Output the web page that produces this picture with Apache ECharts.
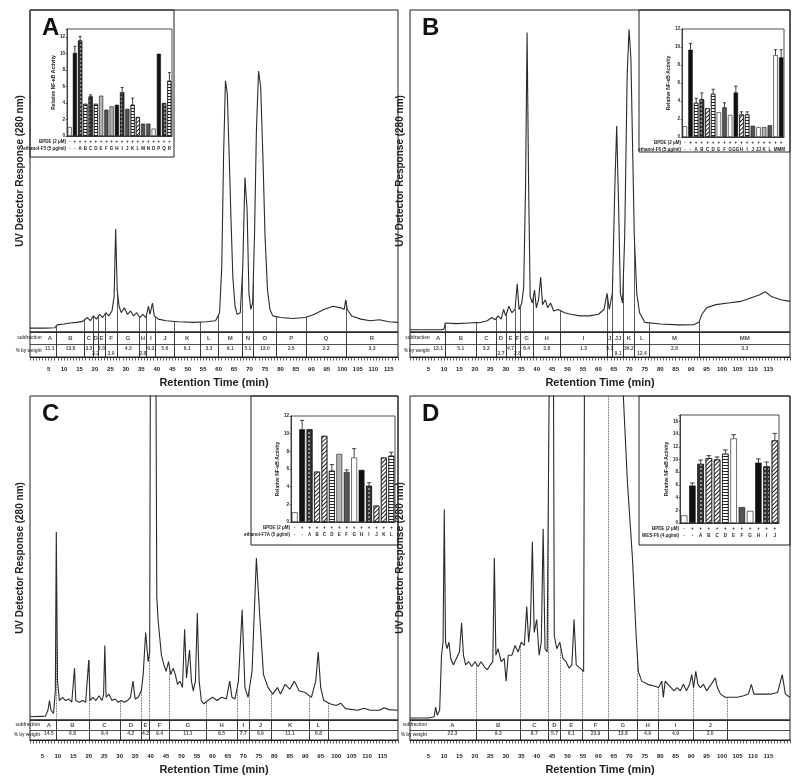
<!DOCTYPE html>
<html>
<head>
<meta charset="utf-8">
<script src="https://cdn.jsdelivr.net/npm/echarts@6/dist/echarts.min.js"></script>
<style>
html, body { margin: 0; padding: 0; background: #fff; }
#chart { width: 800px; height: 784px; }
</style>
</head>
<body>
<div id="chart"></div>
<script>
// ---- retention time tick labels (min)
const tickLabels = [5, 10, 15, 20, 25, 30, 35, 40, 45, 50, 55, 60, 65, 70, 75, 80, 85, 90, 95, 100, 105, 110, 115]

// ---- panel A: chromatogram [time, relative response]
const chromA = [[-1,1.2],[4,1.2],[7,1.3],[7.8,2.2],[10,2.5],[12,2.8],[14,3],[16,3.3],[17.5,4.5],[18.5,3.5],[19.5,5],[20.5,4],[21.5,5.5],[22.5,4.5],[23.5,6],[24.5,5],[25.5,6.5],[26.2,11],[26.7,32],[27.2,13],[27.8,8],[28.5,6],[29.5,7.5],[30.5,5.5],[31.5,6.5],[32.5,5],[33.5,6],[34.5,4.5],[35.5,5.5],[36.5,4.5],[37.3,8],[37.8,5.5],[38.6,9],[39.2,5],[40.5,4],[43,3.5],[47,3.2],[52,3],[56,3.2],[59,3.5],[60.3,6],[61,20],[61.6,55],[62.2,78],[62.8,74],[63.4,55],[64,35],[64.6,17],[65.3,8],[66,5.5],[67,6],[67.8,20],[68.5,48],[69.2,38],[69.8,12],[70.4,7],[71,9],[71.6,30],[72.2,62],[72.9,81],[73.6,76],[74.3,55],[75,30],[75.8,13],[76.6,7],[77.5,5],[80,4.5],[84,4.2],[88,4.5],[91,5.5],[94,7],[97,8],[99.5,7.5],[100.6,7],[101.1,10],[101.6,7],[103,5],[106,4],[109,3.5],[112,3.8],[115,3.2],[118,3]]
const fracA = ['A','B','C','D','E','F','G','H','I','J','K','L','M','N','O','P','Q','R']
const weightA = [11.1,13.8,3.3,3.2,2.0,3.0,4.3,2.8,6.3,5.6,6.1,3.3,9.1,5.1,13.0,2.5,2.3,3.3]
const cutsA = [7.5,16.7,19.4,21.0,23.2,27.2,34.3,36.7,39.4,45.8,53.9,59.8,67.7,71.2,78.7,88.2,101.2]
const lowA = ['D','F','H']
const insCatA = ['-','-','A','B','C','D','E','F','G','H','I','J','K','L','M','N','O','P','Q','R']
const insValA = [1.1,10.1,11.6,3.9,4.8,3.9,4.9,3.2,3.6,3.8,5.3,3.3,3.8,2.3,1.5,1.5,0.9,10.0,4.0,6.7]
const insErrA = [null,10.9,12.1,null,5.0,null,null,null,null,null,5.9,null,4.6,null,null,null,null,null,null,7.7]
const insFillA = ['w','k','x','h','x','h','l','g','l','k','x','g','h','d','g','g','w','k','x','h']

// ---- panel B
const chromB = [[-1,0.7],[9,0.7],[10,0.9],[10.4,2.8],[11,2.4],[14,2.6],[18,2.8],[22,3],[24,3.5],[25.5,4.5],[26.5,3.8],[27.5,5],[28.5,4],[29.3,7],[30,5],[31,8],[32,6],[33,7],[33.7,15],[34.3,7],[35.2,9],[35.8,14],[36.4,45],[36.9,93],[37.4,45],[37.9,11],[38.6,9],[39.3,13],[39.9,7.5],[40.6,10],[41.3,17],[41.9,8.5],[42.8,10],[43.6,7.5],[44.5,9],[45.5,6.5],[47,7],[49,6],[51,5.5],[54,5],[57,5],[60,5.5],[61.8,7],[62.8,12],[63.5,7],[64.5,12],[65.3,45],[65.9,64],[66.5,40],[67.1,12],[67.8,9],[68.5,30],[69.3,80],[69.9,94],[70.5,85],[71,60],[71.6,30],[72.4,12],[73.3,6],[75,3],[80,2.5],[86,2.2],[91,2.3],[92.5,3],[93.5,5.5],[95,7.5],[98,8.5],[102,9],[106,9.5],[109,10.5],[112,11.5],[114,12.5],[116,11],[119,10],[122,9.5]]
const fracB = ['A','B','C','D','E','F','G','H','I','J','JJ','K','L','M','MM']
const weightB = [13.1,5.1,3.2,2.7,4.7,2.8,6.4,3.8,1.3,5.1,9.1,36.2,12.4,2.8,3.3]
const cutsB = [10.3,20.6,26.8,30.1,33.0,34.6,38.9,47.6,62.7,64.6,68.1,71.6,76.5,92.7]
const lowB = ['D','F','JJ','L']
const insCatB = ['-','-','A','B','C','D','E','F','G','GG','H','I','J','JJ','K','L','M','MM']
const insValB = [1.2,9.7,3.8,4.2,3.2,4.8,2.75,3.3,2.45,4.95,2.5,2.5,1.25,1.1,1.1,1.3,9.1,8.85]
const insErrB = [null,10.4,4.3,4.9,null,5.3,null,3.8,null,5.65,2.8,2.8,null,null,null,null,9.7,9.7]
const insFillB = ['w','k','h','x','d','h','w','g','w','k','d','h','g','w','l','g','w','k']

// ---- panel C
const chromC = [[1,1],[6,1.2],[6.8,3],[7.3,6],[7.8,3],[8.6,2],[9.2,9],[9.5,58],[9.9,12],[10.5,6],[11.5,7],[12.5,6],[13.5,6.5],[14.5,5.5],[15,6],[15.4,16],[15.8,6],[17,5.5],[18,6],[19,5.5],[19.6,6],[20,18.5],[20.4,6],[21.3,7],[22.3,6],[23.3,7.5],[24.3,6],[24.8,8],[25.2,23],[25.6,7],[26.5,8],[27.5,6],[28.5,6.5],[29.5,5.5],[30.5,6],[31.5,5.5],[32.5,6],[33.5,7],[34.3,12],[35,6.5],[36,7],[37,9],[37.6,14],[38.4,27],[39.2,18],[39.7,21],[40,140],[41.6,140],[42,38],[42.4,31],[42.9,26],[43.5,20],[44.3,17],[45,15],[45.8,18],[46.5,14],[47.3,16],[48,14],[48.7,11],[49.5,12],[50.3,10],[51,28],[51.6,13],[52.6,21.6],[53.2,12],[53.8,9],[54.5,12],[55.1,33],[55.7,12],[56.4,6],[57.2,5],[58.5,6],[60,7],[61.5,6],[63,7],[64.5,6.5],[65.6,12],[66.3,7],[67.3,6.5],[68.4,12],[69.6,34],[70.5,10],[71.5,7],[72.8,15],[74.2,50],[75.3,32],[76.5,14],[78,10],[79.5,8],[81,10],[82,8],[83.5,11],[85,9.5],[86.5,12],[88,9],[90,8.5],[92,7],[93.4,12],[94.2,21],[95,10],[96,6],[98,5],[100,4.5],[101.5,5.2],[103,3.5],[107,3],[109,3.6],[111,3],[114,3],[115.5,3.8],[117,3.2],[120,3]]
const fracC = ['A','B','C','D','E','F','G','H','I','J','K','L']
const weightC = [14.5,6.8,9.4,4.2,4.2,9.4,11.1,8.5,7.7,6.9,11.1,6.8]
const cutsC = [9.5,20.0,30.2,37.0,39.7,46.1,58.0,67.9,72.0,79.0,91.2,97.4]
const lowC = []
const insCatC = ['-','-','A','B','C','D','E','F','G','H','I','J','K','L']
const insValC = [1.1,10.5,10.5,5.7,9.75,5.8,7.7,5.65,7.3,5.9,4.1,1.85,7.3,7.5]
const insErrC = [null,11.5,null,null,null,6.5,null,5.9,8.3,null,4.45,null,null,7.9]
const insFillC = ['w','k','x','d','d','h','l','g','w','k','x','d','d','h']

// ---- panel D
const chromD = [[-1,0.6],[5,0.6],[6.8,1],[7.3,4],[7.8,1.5],[8.6,3],[9.2,20],[9.7,24],[10.1,65],[10.5,24],[11,22],[11.6,24],[12.2,19],[13,17],[14,19],[15,21],[15.7,30],[16.3,20],[17,17],[18,18],[19,16.5],[20,18],[21,16.5],[22,18],[23,16.5],[24,15.5],[25,17],[25.8,18],[26.3,50],[26.8,20],[27.5,22],[28.5,18],[29.5,19],[30.1,12],[30.8,20],[32,20],[33,23],[34,21],[35,24],[36,23],[36.8,35],[37.4,24],[38,30],[38.6,55],[39.2,27],[40,31],[40.8,20],[41.5,24],[42.1,59],[42.7,22],[43.4,21],[44.1,110],[44.5,150],[45.3,150],[45.7,26],[46.5,22],[47.5,24],[48.5,19],[49.5,18],[50.5,16],[51.4,17],[52.1,31],[52.8,17],[54,16],[55.2,15],[55.6,150],[60,160],[66,160],[67.8,105],[69.4,73],[71,50],[72.2,26],[72.9,15],[74,12],[76,11],[78,10.5],[79.5,10],[80.5,12],[81,7],[81.6,12],[82.5,11],[83.5,10],[84.5,9],[85.5,10],[86.5,9],[87.5,11],[88.5,9],[89.5,11],[90.2,14],[90.8,10],[91.5,15],[92.2,11],[93,10],[94,11],[95,9],[96.5,11],[97.8,13],[98.5,10],[99.5,8],[101,7],[103,7],[105,7],[107,7.5],[108.5,8],[109.5,11],[110.3,8],[112,8],[114,8],[116,8],[118,8.5],[119.5,14],[120.5,8],[122,7]]
const fracD = ['A','B','C','D','E','F','G','H','I','J']
const weightD = [22.3,9.3,8.7,5.7,6.1,23.9,13.8,4.9,4.9,2.0]
const cutsD = [20.5,34.6,43.9,47.6,54.8,63.3,72.5,79.3,90.6,101.7]
const lowD = []
const insCatD = ['-','-','A','B','C','D','E','F','G','H','I','J']
const insValD = [1.2,5.9,9.3,10.2,10.0,10.9,13.3,2.5,1.9,9.5,8.9,13.0]
const insErrD = [null,6.3,9.9,10.6,10.4,11.5,13.9,null,null,10.1,9.6,14.1]
const insFillD = ['w','k','x','d','d','h','w','g','w','k','x','d']

const FONT = 'Liberation Sans, Arial, sans-serif'
const INK = '#222'

const grids = []
const xAxes = []
const yAxes = []
const series = []
const titles = []
const graphics = []

// value of the trace at time t (linear between read points)
function traceAt (pts, t) {
    for (let i = 1; i < pts.length; i++) {
        if (pts[i][0] >= t) {
            const a = pts[i - 1]
            const b = pts[i]
            return a[1] + (b[1] - a[1]) * (t - a[0]) / (b[0] - a[0])
        }
    }
    return pts[pts.length - 1][1]
}

function barStyle (k) {
    switch (k) {
        case 'k': return { color: '#111' }
        case 'g': return { color: '#555' }
        case 'l': return { color: '#b5b5b5' }
        case 'w': return { color: '#fff' }
        case 'x': return { color: '#333', decal: { symbol: 'rect', symbolSize: 0.7, dashArrayX: [1.5, 1.2], dashArrayY: [1.5, 1.2], color: '#e0e0e0' } }
        case 'h': return { color: '#fff', decal: { symbol: 'rect', symbolSize: 1, dashArrayX: [1, 0], dashArrayY: [0.9, 1.1], rotation: 0, color: '#222' } }
        case 'd': return { color: '#fff', decal: { symbol: 'rect', symbolSize: 1, dashArrayX: [1, 0], dashArrayY: [0.9, 1.3], rotation: -Math.PI / 4, color: '#222' } }
    }
    return { color: '#fff' }
}

function addPanel (p) {
    const [x0, y0, x1, y1] = p.box
    const W = x1 - x0

    titles.push({ text: p.letter, left: x0 + 7, top: y0 + 1, textStyle: { fontSize: 24, fontWeight: 'bold', color: '#111', fontFamily: FONT } })

    // chromatogram
    let gi = grids.length
    grids.push({ left: x0, top: y0, width: W, height: y1 - y0, show: true, borderColor: INK, borderWidth: 1, outerBoundsMode: 'none' })
    xAxes.push({ gridIndex: gi, type: 'value', min: p.tmin, max: p.tmax, show: false })
    yAxes.push({
        gridIndex: gi, type: 'value', min: 0, max: 100,
        name: 'UV Detector Response (280 nm)', nameLocation: 'middle', nameGap: 5, nameRotate: 90,
        nameTextStyle: { fontSize: 10, fontWeight: 'bold', color: INK, fontFamily: FONT },
        axisLine: { show: false }, axisTick: { show: false }, axisLabel: { show: false }, splitLine: { show: false }
    })
    series.push({
        type: 'line', xAxisIndex: xAxes.length - 1, yAxisIndex: yAxes.length - 1,
        data: p.chrom, showSymbol: false, symbol: 'none', silent: true, z: 3,
        lineStyle: { color: '#2a2a2a', width: 1.1 },
        markLine: {
            silent: true, symbol: ['none', 'none'], label: { show: false },
            lineStyle: { color: '#333', width: 0.8, type: p.dotted ? 'dotted' : 'solid' },
            data: p.cuts.filter(t => t < p.tmax).map(t => [
                { coord: [t, 0] },
                { coord: [t, Math.min(traceAt(p.chrom, t), 100)] }
            ])
        }
    })

    // subfraction table + retention time axis
    const [ty0, ty1] = p.table
    gi = grids.length
    grids.push({ left: x0, top: ty0, width: W, height: ty1 - ty0, show: true, borderColor: INK, borderWidth: 1, outerBoundsMode: 'none' })
    xAxes.push({
        gridIndex: gi, type: 'value', min: p.tmin, max: p.tmax, interval: 1,
        axisLine: { lineStyle: { color: INK, width: 1 } },
        axisTick: { length: 3.5, lineStyle: { color: INK, width: 0.7 } },
        axisLabel: { formatter: v => tickLabels.includes(v) ? String(v) : '', fontSize: 6, fontWeight: 'bold', color: INK, margin: p.labelMargin, fontFamily: FONT },
        splitLine: { show: false },
        name: 'Retention Time (min)', nameLocation: 'middle', nameGap: p.nameGap,
        nameTextStyle: { fontSize: 11, fontWeight: 'bold', color: INK, fontFamily: FONT }
    })
    yAxes.push({
        gridIndex: gi, type: 'value', min: 0, max: 2, interval: 1,
        axisLine: { show: false }, axisTick: { show: false }, axisLabel: { show: false },
        splitLine: { show: true, lineStyle: { color: INK, width: 0.8 } }
    })
    const n = p.frac.length
    const headEnd = p.tmin + p.hw
    const edges = [headEnd].concat(p.cuts)
    if (edges.length === n) edges.push(p.tmax)
    const mid = i => (edges[i] + edges[i + 1]) / 2
    const cellData = p.frac.map((f, i) => ({ name: f, value: [mid(i), 1.5] }))
    const wData = p.weight.map((w, i) => ({ name: w.toFixed(1), value: [mid(i), p.low.includes(p.frac[i]) ? 0.28 : 0.68] }))
    const tableLabel = fs => ({ show: true, position: 'inside', formatter: '{b}', fontSize: fs, fontWeight: 'bold', color: INK, fontFamily: FONT })
    series.push({
        type: 'scatter', xAxisIndex: xAxes.length - 1, yAxisIndex: yAxes.length - 1, silent: true,
        data: cellData, symbolSize: 1, itemStyle: { color: 'transparent' }, label: tableLabel(p.fs),
        markLine: {
            silent: true, symbol: ['none', 'none'], label: { show: false },
            lineStyle: { color: INK, width: 0.9, type: 'solid' },
            data: p.cuts.filter(t => t < p.tmax).map(t => ({ xAxis: t }))
        }
    })
    series.push({
        type: 'scatter', xAxisIndex: xAxes.length - 1, yAxisIndex: yAxes.length - 1, silent: true,
        data: wData, symbolSize: 1, itemStyle: { color: 'transparent' }, label: tableLabel(p.fs - 1)
    })
    // row headers, right-aligned against the first cell
    series.push({
        type: 'scatter', xAxisIndex: xAxes.length - 1, yAxisIndex: yAxes.length - 1, silent: true,
        data: [{ name: 'subfraction', value: [headEnd, 1.5] }, { name: '% by weight', value: [headEnd, 0.5] }],
        symbolSize: 1, itemStyle: { color: 'transparent' },
        label: { show: true, position: 'left', distance: 1, formatter: '{b}', fontSize: 4.5, fontWeight: 'bold', color: INK, fontFamily: FONT }
    })

    // inset: NF-kB activity bars
    const ins = p.inset
    graphics.push({
        type: 'rect', silent: true, z: 1,
        shape: { x: ins.outer[0], y: ins.outer[1], width: ins.outer[2] - ins.outer[0], height: ins.outer[3] - ins.outer[1] },
        style: { fill: 'none', stroke: INK, lineWidth: 1 }
    })
    const [fx0, fy0, fx1, fy1] = ins.frame
    gi = grids.length
    grids.push({ left: fx0, top: fy0, width: fx1 - fx0, height: fy1 - fy0, show: true, borderColor: INK, borderWidth: 0.8, outerBoundsMode: 'none' })
    xAxes.push({
        gridIndex: gi, type: 'category', data: ins.cats.map((c, i) => 'b' + i),
        axisLine: { lineStyle: { color: INK, width: 0.8 } }, axisTick: { show: false },
        axisLabel: {
            interval: 0, margin: 2, fontSize: 4.5, lineHeight: 7, fontWeight: 'bold', color: INK, fontFamily: FONT,
            formatter: (v, i) => (i === 0 ? '-' : '+') + '\n' + ins.cats[i]
        }
    })
    yAxes.push({
        gridIndex: gi, type: 'value', min: 0, max: ins.ymax, interval: 2,
        axisLine: { show: true, lineStyle: { color: INK, width: 0.8 } },
        axisTick: { show: true, length: 1.5, lineStyle: { color: INK, width: 0.6 } },
        axisLabel: { fontSize: 4.5, margin: 2, color: INK, fontWeight: 'bold', fontFamily: FONT, formatter: v => v % 2 === 0 ? String(v) : '' },
        splitLine: { show: false },
        name: 'Relative NF-κB Activity', nameLocation: 'middle', nameGap: 8, nameRotate: 90,
        nameTextStyle: { fontSize: 5, fontWeight: 'bold', color: INK, fontFamily: FONT }
    })
    const bx = xAxes.length - 1
    const by = yAxes.length - 1
    series.push({
        type: 'bar', xAxisIndex: bx, yAxisIndex: by, silent: true, barCategoryGap: '22%',
        itemStyle: { borderColor: '#111', borderWidth: 0.6 },
        data: ins.vals.map((v, i) => ({ value: v, itemStyle: barStyle(ins.fill[i]) }))
    })
    series.push({
        type: 'custom', xAxisIndex: bx, yAxisIndex: by, silent: true, z: 4,
        data: ins.vals.map((v, i) => [i, v, ins.err[i]]).filter(d => d[2] != null),
        renderItem: function (params, api) {
            const top = api.coord([api.value(0), api.value(2)])
            const base = api.coord([api.value(0), api.value(1)])
            const w = api.size([1, 0])[0] * 0.28
            const st = { stroke: '#111', lineWidth: 0.8 }
            return {
                type: 'group',
                children: [
                    { type: 'line', shape: { x1: top[0], y1: base[1], x2: top[0], y2: top[1] }, style: st },
                    { type: 'line', shape: { x1: top[0] - w, y1: top[1], x2: top[0] + w, y2: top[1] }, style: st }
                ]
            }
        }
    })
    const rowStyle = txt => ({ text: txt, align: 'right', verticalAlign: 'middle', fontSize: 4.5, fontWeight: 'bold', fill: INK, font: 'bold 4.5px ' + FONT })
    graphics.push({ type: 'text', silent: true, x: fx0 - 1, y: fy1 + 5.5, style: rowStyle('BPDE (2 μM)') })
    graphics.push({ type: 'text', silent: true, x: fx0 - 1, y: fy1 + 12.5, style: rowStyle(ins.rowName) })
}

addPanel({
    letter: 'A', box: [30, 10, 398, 332], table: [332, 357], tmin: -1, tmax: 118, hw: 4.3,
    labelMargin: 9, nameGap: 20, fs: 6, dotted: false,
    chrom: chromA, frac: fracA, weight: weightA, cuts: cutsA, low: lowA,
    inset: { outer: [30, 10, 174, 157], frame: [67, 29, 172, 136], ymax: 13, cats: insCatA, vals: insValA, err: insErrA, fill: insFillA, rowName: 'ethanol-F5 (5 μg/ml)' }
})
addPanel({
    letter: 'B', box: [410, 10, 790, 332], table: [332, 357], tmin: -1, tmax: 122, hw: 6.9,
    labelMargin: 9, nameGap: 20, fs: 6, dotted: false,
    chrom: chromB, frac: fracB, weight: weightB, cuts: cutsB, low: lowB,
    inset: { outer: [639, 10, 790, 152], frame: [682, 29, 784, 137], ymax: 12, cats: insCatB, vals: insValB, err: insErrB, fill: insFillB, rowName: 'ethanol-F6 (5 μg/ml)' }
})
addPanel({
    letter: 'C', box: [30, 396, 398, 720], table: [720, 740], tmin: 1, tmax: 120, hw: 3.7,
    labelMargin: 13, nameGap: 24, fs: 6, dotted: true,
    chrom: chromC, frac: fracC, weight: weightC, cuts: cutsC, low: lowC,
    inset: { outer: [251, 396, 398, 545], frame: [291, 416, 395, 522], ymax: 12, cats: insCatC, vals: insValC, err: insErrC, fill: insFillC, rowName: 'ethanol-F7A (5 μg/ml)' }
})
addPanel({
    letter: 'D', box: [410, 396, 790, 720], table: [720, 740], tmin: -1, tmax: 122, hw: 6,
    labelMargin: 13, nameGap: 24, fs: 6, dotted: true,
    chrom: chromD, frac: fracD, weight: weightD, cuts: cutsD, low: lowD,
    inset: { outer: [639, 396, 790, 545], frame: [680, 415, 779, 523], ymax: 17, cats: insCatD, vals: insValD, err: insErrD, fill: insFillD, rowName: 'WES-F6 (4 μg/ml)' }
})

const myChart = echarts.init(document.getElementById('chart'), null, { renderer: 'canvas' })
myChart.setOption({
    animation: false,
    backgroundColor: '#fff',
    textStyle: { fontFamily: FONT },
    title: titles,
    grid: grids,
    xAxis: xAxes,
    yAxis: yAxes,
    series: series,
    graphic: { elements: graphics }
})
</script>
</body>
</html>
